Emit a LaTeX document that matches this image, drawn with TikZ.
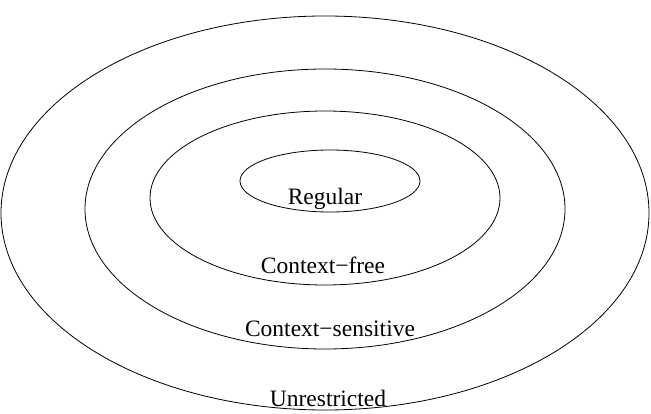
\documentclass[tikz,border=0pt]{standalone}
\usepackage{fontspec}
\setmainfont{Liberation Serif}
\begin{document}
\begin{tikzpicture}[x=1pt,y=-1pt,
  ring/.style={draw=black,line width=0.8pt},
  lbl/.style={anchor=base,inner sep=0pt,font=\fontsize{23.5}{28}\selectfont}]
\useasboundingbox (0,0) rectangle (651,414);
\draw[ring] (325,213) ellipse [x radius=324, y radius=197];
\draw[ring] (325,209) ellipse [x radius=240, y radius=140];
\draw[ring] (325,198) ellipse [x radius=175, y radius=87];
\draw[ring] (330,181) ellipse [x radius=90, y radius=31];
\node[lbl] (reg) at (325,205) {Regular};
\node[lbl] (cf) at (323,274) {Context−free};
\node[lbl] (cs) at (330,337) {Context−sensitive};
\node[lbl] (un) at (328,406) {Unrestricted};
\end{tikzpicture}
\end{document}
